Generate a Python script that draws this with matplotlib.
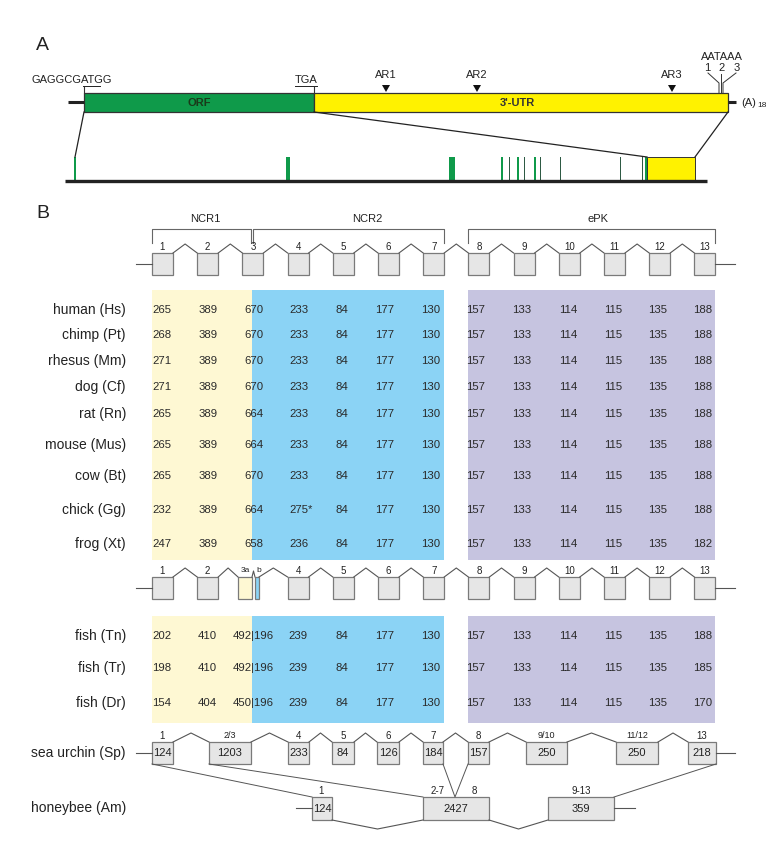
import matplotlib
matplotlib.use("Agg")
import matplotlib.pyplot as plt
from matplotlib.patches import Rectangle, Polygon

plt.rcParams['font.family'] = ['Liberation Sans', 'DejaVu Sans']

# ---------------- data ----------------
species = ["human (Hs)", "chimp (Pt)", "rhesus (Mm)", "dog (Cf)", "rat (Rn)",
           "mouse (Mus)", "cow (Bt)", "chick (Gg)", "frog (Xt)"]
exon1 = ["265", "268", "271", "271", "265", "265", "265", "232", "247"]
exon2 = ["389"] * 9
exon3 = ["670", "670", "670", "670", "664", "664", "670", "664", "658"]
exon4 = ["233", "233", "233", "233", "233", "233", "233", "275*", "236"]
exon5 = ["84"] * 9
exon6 = ["177"] * 9
exon7 = ["130"] * 9
exon8 = ["157"] * 9
exon9 = ["133"] * 9
exon10 = ["114"] * 9
exon11 = ["115"] * 9
exon12 = ["135"] * 9
exon13 = ["188", "188", "188", "188", "188", "188", "188", "188", "182"]

fish = ["fish (Tn)", "fish (Tr)", "fish (Dr)"]
fish_e1 = ["202", "198", "154"]
fish_e2 = ["410", "410", "404"]
fish_e3 = ["492|196", "492|196", "450|196"]
fish_e4 = ["239", "239", "239"]
fish_e5 = ["84", "84", "84"]
fish_e6 = ["177", "177", "177"]
fish_e7 = ["130", "130", "130"]
fish_e8 = ["157", "157", "157"]
fish_e9 = ["133", "133", "133"]
fish_e10 = ["114", "114", "114"]
fish_e11 = ["115", "115", "115"]
fish_e12 = ["135", "135", "135"]
fish_e13 = ["188", "185", "170"]

urchin_labels = ["1", "2/3", "4", "5", "6", "7", "8", "9/10", "11/12", "13"]
urchin_sizes = ["124", "1203", "233", "84", "126", "184", "157", "250", "250", "218"]
bee_labels = ["1", "2-7", "9-13"]
bee_sizes = ["124", "2427", "359"]

ar_sites = ["AR1", "AR2", "AR3"]
polyA_labels = ["1", "2", "3"]

# ---------------- layout (pixel space) ----------------
W, H = 778, 857
fig = plt.figure(figsize=(W / 100, H / 100), dpi=100)
ax = fig.add_axes([0, 0, 1, 1])
ax.set_xlim(0, W)
ax.set_ylim(H, 0)
ax.axis('off')

GREEN = '#0f9a4a'
YELLOW = '#fff200'
LYEL = '#fef8d3'
LBLUE = '#8bd3f5'
LPURP = '#c6c4e0'
BOXF = '#e6e6e6'
BOXE = '#7a7a7a'
LINE = '#555555'
TXT = '#222222'

# ---------- Panel A ----------
ax.text(36, 45, "A", fontsize=14, ha='left', va='center', color=TXT)
ax.plot([68, 84], [102, 102], color='#222', lw=2.2, solid_capstyle='butt')
ax.add_patch(Rectangle((84, 93), 230, 19, facecolor=GREEN, edgecolor='#333', lw=0.9))
ax.add_patch(Rectangle((314, 93), 414, 19, facecolor=YELLOW, edgecolor='#333', lw=0.9))
ax.text(199, 103, "ORF", fontsize=8, fontweight='bold', ha='center', va='center', color='#1a3a1a')
ax.text(517, 103, "3'-UTR", fontsize=8, fontweight='bold', ha='center', va='center', color='#333')
ax.plot([728, 736], [102, 102], color='#222', lw=2.2, solid_capstyle='butt')
ax.text(741, 103, "(A)", fontsize=8, ha='left', va='center', color=TXT)
ax.text(757, 105, "18", fontsize=6, ha='left', va='center', color=TXT)

ax.text(32, 80, "GAGGCGATGG", fontsize=8, ha='left', va='center', color=TXT)
ax.plot([83, 100], [86, 86], color=TXT, lw=0.7)
ax.text(295, 80, "TGA", fontsize=8, ha='left', va='center', color=TXT)
ax.plot([295, 317], [86, 86], color=TXT, lw=0.7)
ax.plot([84, 84], [87, 93], color='#333', lw=0.8)
ax.plot([314, 314], [87, 93], color='#333', lw=0.8)

ar_x = [386, 477, 672]
for lab, x in zip(ar_sites, ar_x):
    ax.add_patch(Polygon([[x - 4, 85], [x + 4, 85], [x, 92]], closed=True,
                         facecolor='#111', edgecolor='none'))
    ax.text(x, 75, lab, fontsize=8, ha='center', va='center', color=TXT)

ax.text(722, 57, "AATAAA", fontsize=8, ha='center', va='center', color=TXT)
pa_x = [707, 722, 737]
for lab, x in zip(polyA_labels, pa_x):
    ax.text(x, 68, lab, fontsize=8, ha='center', va='center', color=TXT)
ax.plot([708, 719, 719], [73, 83, 93], color='#333', lw=0.7)
ax.plot([721, 721], [74, 93], color='#333', lw=0.7)
ax.plot([736, 723, 723], [73, 83, 93], color='#333', lw=0.7)

# zoomed ORF track
ax.plot([84, 75], [112, 157], color='#222', lw=0.9)
ax.plot([314, 647], [112, 157], color='#222', lw=0.9)
ax.plot([728, 695], [112, 157], color='#222', lw=0.9)
ax.plot([65, 707], [181, 181], color='#222', lw=2.4, solid_capstyle='butt')
ax.add_patch(Rectangle((647, 157), 48, 24, facecolor=YELLOW, edgecolor='#333', lw=0.7))
orf_exons = [(75, 2, GREEN), (288, 4, GREEN), (452, 6, GREEN), (502, 2, GREEN),
             (510, 1, '#2e5a44'), (518, 2, GREEN), (525, 1, '#2e5a44'), (535, 2, GREEN),
             (541, 1, '#2e5a44'), (561, 1, '#2e5a44'), (621, 1, '#2e5a44'),
             (643, 1, '#2e5a44'), (646, 2, GREEN)]
for x, w, c in orf_exons:
    ax.add_patch(Rectangle((x - w / 2, 157), w, 24, facecolor=c, edgecolor='none'))

# ---------- Panel B ----------
ax.text(36, 213, "B", fontsize=14, ha='left', va='center', color=TXT)

X0, DX, BW = 152, 45.2, 21
xl = [X0 + DX * i for i in range(13)]
xc = [x + BW / 2 for x in xl]


def box(x, y, w, h, label=None, fc=BOXF, fs=7.5):
    ax.add_patch(Rectangle((x, y), w, h, facecolor=fc, edgecolor=BOXE, lw=0.9))
    if label is not None:
        ax.text(x + w / 2, y + h / 2 + 0.5, label, fontsize=fs, ha='center', va='center', color=TXT)


def intron(x1, x2, y, h=9, down=False):
    yp = y + h if down else y - h
    ax.plot([x1, (x1 + x2) / 2, x2], [y, yp, y], color=LINE, lw=0.8)


def gene_row(ytop, split3=False):
    bh = 22
    ax.plot([136, xl[0]], [ytop + bh / 2, ytop + bh / 2], color=LINE, lw=0.8)
    ax.plot([xl[12] + BW, 735], [ytop + bh / 2, ytop + bh / 2], color=LINE, lw=0.8)
    for i in range(13):
        if split3 and i == 2:
            box(238, ytop, 14, bh, fc=LYEL)
            box(255, ytop, 4, bh, fc=LBLUE)
            intron(252, 255, ytop, 6)
            ax.text(245, ytop - 6, "3a", fontsize=6, ha='center', va='center', color=TXT)
            ax.text(258.5, ytop - 6, "b", fontsize=6, ha='center', va='center', color=TXT)
        else:
            box(xl[i], ytop, BW, bh)
            ax.text(xc[i], ytop - 6, str(i + 1), fontsize=7, ha='center', va='center', color=TXT)
    for i in range(12):
        x1 = xl[i] + BW
        x2 = xl[i + 1]
        if split3 and i == 1:
            x2 = 238
        if split3 and i == 2:
            x1 = 259
        intron(x1, x2, ytop)


# brackets
def bracket(x1, x2, label, lx):
    ax.plot([x1, x1, x2, x2], [243, 229, 229, 243], color='#666', lw=0.8)
    ax.text(lx, 219, label, fontsize=8, ha='center', va='center', color=TXT)


bracket(152, 251, "NCR1", 205)
bracket(253, 444, "NCR2", 367)
bracket(468, 715, "ePK", 598)

gene_row(253)

# shaded blocks
for (top, bot) in [(290, 560), (616, 723)]:
    ax.add_patch(Rectangle((152, top), 100, bot - top, facecolor=LYEL, edgecolor='none'))
    ax.add_patch(Rectangle((252, top), 192, bot - top, facecolor=LBLUE, edgecolor='none'))
    ax.add_patch(Rectangle((468, top), 247, bot - top, facecolor=LPURP, edgecolor='none'))

cols = [exon1, exon2, exon3, exon4, exon5, exon6, exon7, exon8, exon9, exon10, exon11, exon12, exon13]
row_y = [310, 335, 361, 387, 414, 445, 476, 510, 544]
col_x = [162, 208, 254, 299, 342, 385, 431, 476, 522, 568, 613, 658, 703]
for r, (sp, y) in enumerate(zip(species, row_y)):
    ax.text(126, y, sp, fontsize=10, ha='right', va='center', color=TXT)
    for c, x in enumerate(col_x):
        v = cols[c][r]
        ax.text(x + (2 if v.endswith('*') else 0), y, v, fontsize=8.2, ha='center', va='center', color='#2a2a2a')

gene_row(577, split3=True)

fcols = [fish_e1, fish_e2, fish_e3, fish_e4, fish_e5, fish_e6, fish_e7, fish_e8, fish_e9,
         fish_e10, fish_e11, fish_e12, fish_e13]
fish_y = [636, 668, 703]
fish_x = [162, 207, 253, 298, 342, 385, 431, 476, 522, 568, 613, 658, 703]
for r, (sp, y) in enumerate(zip(fish, fish_y)):
    ax.text(126, y, sp, fontsize=10, ha='right', va='center', color=TXT)
    for c, x in enumerate(fish_x):
        ax.text(x, y, fcols[c][r], fontsize=8.2, ha='center', va='center', color='#2a2a2a')

# sea urchin
su_x = [(152, 173), (209, 251), (288, 309), (332, 354), (377, 399), (423, 443),
        (468, 489), (526, 567), (616, 658), (688, 716)]
SUY, SUH = 742, 22
ax.text(126, 753, "sea urchin (Sp)", fontsize=10, ha='right', va='center', color=TXT)
ax.plot([136, 152], [753, 753], color=LINE, lw=0.8)
ax.plot([716, 735], [753, 753], color=LINE, lw=0.8)
for (a, b), lab, sz in zip(su_x, urchin_labels, urchin_sizes):
    box(a, SUY, b - a, SUH, sz, fs=8)
    ax.text((a + b) / 2, SUY - 6, lab, fontsize=6.5 if '/' in lab else 7, ha='center', va='center', color=TXT)
for i in range(len(su_x) - 1):
    intron(su_x[i][1], su_x[i + 1][0], SUY)

# honeybee
hb_x = [(312, 332), (423, 489), (548, 614)]
HBY, HBH = 797, 23
ax.text(126, 808, "honeybee (Am)", fontsize=10, ha='right', va='center', color=TXT)
ax.plot([296, 312], [808, 808], color=LINE, lw=0.8)
ax.plot([614, 635], [808, 808], color=LINE, lw=0.8)
for (a, b), sz in zip(hb_x, bee_sizes):
    box(a, HBY, b - a, HBH, sz, fs=8)
ax.text(321, HBY - 6, bee_labels[0], fontsize=7, ha='center', va='center', color=TXT)
ax.text(438, HBY - 6, bee_labels[1], fontsize=7, ha='center', va='center', color=TXT)
ax.text(474, HBY - 6, "8", fontsize=7, ha='center', va='center', color=TXT)
ax.text(581, HBY - 6, bee_labels[2], fontsize=7, ha='center', va='center', color=TXT)
for i in range(2):
    intron(hb_x[i][1], hb_x[i + 1][0], HBY + HBH, h=9, down=True)

# connectors
SUB = SUY + SUH
ax.plot([152, 312], [SUB, HBY], color=LINE, lw=0.7)
ax.plot([209, 423], [SUB, HBY], color=LINE, lw=0.7)
ax.plot([443, 455, 468], [SUB, HBY, SUB], color=LINE, lw=0.7)
ax.plot([716, 614], [SUB, HBY], color=LINE, lw=0.7)

fig.savefig("out.png", dpi=100, facecolor='white')
